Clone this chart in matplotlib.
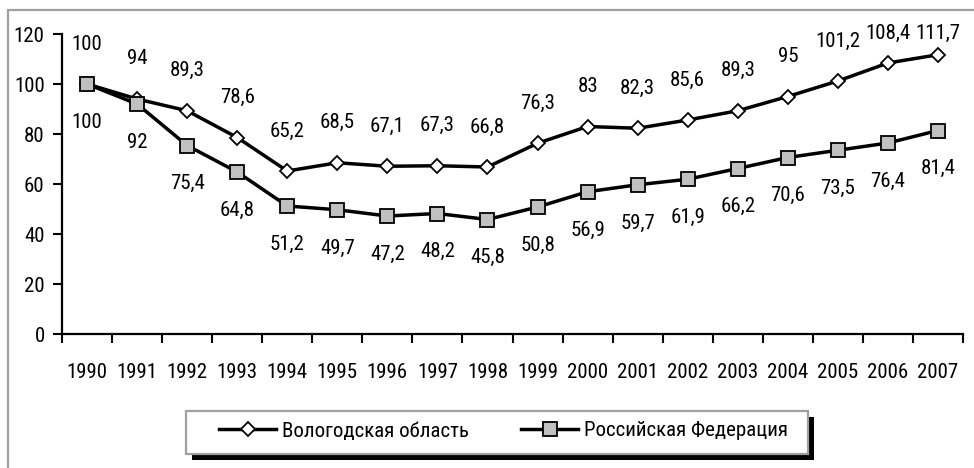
import matplotlib
matplotlib.use("Agg")
import matplotlib.pyplot as plt
from matplotlib.patches import Rectangle

plt.rcParams['font.family'] = ['Roboto Condensed', 'DejaVu Sans']

years = [str(y) for y in range(1990, 2008)]
vologda = [100, 94, 89.3, 78.6, 65.2, 68.5, 67.1, 67.3, 66.8, 76.3, 83, 82.3, 85.6, 89.3, 95, 101.2, 108.4, 111.7]
russia = [100, 92, 75.4, 64.8, 51.2, 49.7, 47.2, 48.2, 45.8, 50.8, 56.9, 59.7, 61.9, 66.2, 70.6, 73.5, 76.4, 81.4]
series_names = ['Вологодская область', 'Российская Федерация']
yticks = [0, 20, 40, 60, 80, 100, 120]

W, H = 974, 468
fig = plt.figure(figsize=(W / 100, H / 100), dpi=100)
ax = fig.add_axes([62 / W, 1 - 334 / H, (963 - 62) / W, (334 - 34) / H])

x = list(range(len(years)))
l1, = ax.plot(x, vologda, color='black', lw=2.5, marker='D', markersize=7.5,
              markerfacecolor='white', markeredgecolor='black', markeredgewidth=1.3,
              label=series_names[0], zorder=3)
l2, = ax.plot(x, russia, color='black', lw=2.5, marker='s', markersize=9.5,
              markerfacecolor='#C0C0C0', markeredgecolor='black', markeredgewidth=1.3,
              label=series_names[1], zorder=4)

fs = 15


def fmt(v):
    return ('%g' % v).replace('.', ',')


ymax_label = 120.4
for i, v in enumerate(vologda):
    ax.annotate(fmt(v), (i, v), xytext=(i, min(v + 16, ymax_label)), textcoords='data',
                ha='center', va='center', fontsize=fs, annotation_clip=False)
for i, v in enumerate(russia):
    ax.annotate(fmt(v), (i, v), xytext=(0, -27.5), textcoords='offset points',
                ha='center', va='center', fontsize=fs, annotation_clip=False)

ax.set_xlim(-0.5, len(years) - 0.5)
ax.set_ylim(0, 120)
ax.set_yticks(yticks)
ax.set_yticklabels([str(t) for t in yticks], fontsize=fs)
ax.set_xticks(x)
ax.set_xticklabels(years, fontsize=fs)
ax.set_xticks([i - 0.5 for i in range(len(years) + 1)], minor=True)
ax.tick_params(axis='x', which='major', length=0, pad=21)
ax.tick_params(axis='x', which='minor', length=6.5, width=1.5, direction='out', color='black')
ax.tick_params(axis='y', length=6.5, width=1.5, pad=6, color='black')
for s in ['top', 'right']:
    ax.spines[s].set_visible(False)
for s in ['left', 'bottom']:
    ax.spines[s].set_linewidth(1.6)
    ax.spines[s].set_color('black')
ax.patch.set_visible(False)

# outer chart frame
fig.add_artist(Rectangle((8 / W, -0.1), 1.2, 1 - 10 / H + 0.1, transform=fig.transFigure,
                         fill=False, edgecolor='#A0A0A0', lw=1.6, zorder=0))

# legend box with shadow
lx0, lx1, ly0, ly1 = 186, 808, 411, 454
fig.add_artist(Rectangle(((lx0 + 6) / W, 1 - (ly1 + 6) / H), (lx1 - lx0) / W, (ly1 - ly0) / H,
                         transform=fig.transFigure, facecolor='black', edgecolor='none', zorder=1))
fig.add_artist(Rectangle((lx0 / W, 1 - ly1 / H), (lx1 - lx0) / W, (ly1 - ly0) / H,
                         transform=fig.transFigure, facecolor='white', edgecolor='#A0A0A0',
                         lw=1.6, zorder=2))
ycen = 1 - 431 / H
legs = []
for handle, xstart in [(l1, 219), (l2, 521)]:
    lg = fig.legend(handles=[handle], loc='center left', bbox_to_anchor=(xstart / W, ycen),
                    fontsize=fs, frameon=False, borderpad=0, borderaxespad=0,
                    handlelength=2.75, handletextpad=0.25)
    lg.set_zorder(3)
    legs.append(lg)

fig.savefig('out.png', dpi=100)
